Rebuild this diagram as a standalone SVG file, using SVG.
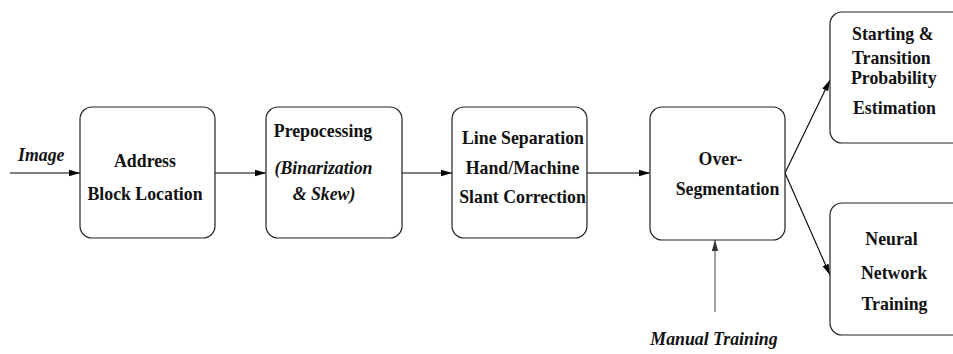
<svg xmlns="http://www.w3.org/2000/svg" width="953" height="354" viewBox="0 0 953 354">
<style>
.box{fill:#fff;stroke:#222;stroke-width:1.2}
.t{font-family:"Liberation Serif","Times New Roman",serif;font-weight:bold;font-size:17.8px;fill:#111}
.i{font-style:italic}
.c{stroke:#000;stroke-width:1.1;fill:none;marker-end:url(#ah)}
.g{stroke:#555;marker-end:url(#ahg)}
</style>
<defs>
<marker id="ah" markerWidth="12" markerHeight="8" refX="11" refY="4" orient="auto" markerUnits="userSpaceOnUse">
<path d="M0,0.8 L11,4 L0,7.2 Z" fill="#000"/>
</marker>
<marker id="ahg" markerWidth="12" markerHeight="8" refX="11" refY="4" orient="auto" markerUnits="userSpaceOnUse">
<path d="M0,0.8 L11,4 L0,7.2 Z" fill="#333"/>
</marker>
</defs>
<rect width="953" height="354" fill="#fff"/>
<g id="connectors">
<line class="c" x1="10" y1="173" x2="80" y2="173"/>
<line class="c" x1="215" y1="173" x2="266" y2="173"/>
<line class="c" x1="402" y1="173" x2="452" y2="173"/>
<line class="c" x1="587" y1="173" x2="650" y2="173"/>
<line class="c" x1="785" y1="173" x2="830" y2="80"/>
<line class="c" x1="785" y1="173" x2="830" y2="275"/>
<line class="c g" x1="715" y1="312" x2="715" y2="240"/>
</g>
<g id="image-label"><text class="t i" x="18" y="160.5">Image</text></g>
<g id="address">
<rect class="box" x="80" y="107" width="135" height="131" rx="12"/>
<text class="t" x="145" y="166.5" text-anchor="middle">Address</text>
<text class="t" x="145" y="199.5" text-anchor="middle">Block Location</text>
</g>
<g id="prepro">
<rect class="box" x="266" y="107" width="136" height="131" rx="12"/>
<text class="t" x="323" y="136.5" text-anchor="middle">Prepocessing</text>
<text class="t i" x="323.5" y="173.5" text-anchor="middle">(Binarization</text>
<text class="t i" x="324" y="200" text-anchor="middle">&amp; Skew)</text>
</g>
<g id="lineSep">
<rect class="box" x="452" y="107" width="135" height="131" rx="12"/>
<text class="t" x="523" y="143.5" text-anchor="middle">Line Separation</text>
<text class="t" x="522.5" y="173.5" text-anchor="middle">Hand/Machine</text>
<text class="t" x="522.5" y="202.5" text-anchor="middle">Slant Correction</text>
</g>
<g id="overseg">
<rect class="box" x="650" y="107" width="135" height="133" rx="12"/>
<text class="t" x="720.5" y="165" text-anchor="middle">Over-</text>
<text class="t" x="727.5" y="195" text-anchor="middle">Segmentation</text>
</g>
<g id="starting">
<rect class="box" x="830" y="12" width="140" height="131" rx="12"/>
<text class="t" x="852" y="40">Starting &amp;</text>
<text class="t" x="852" y="63.5">Transition</text>
<text class="t" x="851" y="83.5">Probability</text>
<text class="t" x="853" y="113.5">Estimation</text>
</g>
<g id="neural">
<rect class="box" x="830" y="203" width="140" height="132" rx="12"/>
<text class="t" x="891.5" y="245" text-anchor="middle">Neural</text>
<text class="t" x="894" y="278.5" text-anchor="middle">Network</text>
<text class="t" x="894.5" y="310" text-anchor="middle">Training</text>
</g>
<g id="manual"><text class="t i" x="714" y="345" text-anchor="middle">Manual Training</text></g>
</svg>
